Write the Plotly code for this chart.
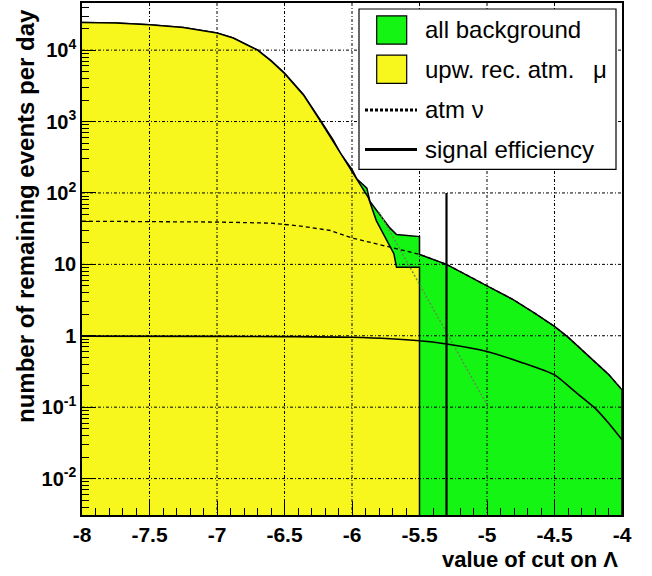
import plotly.graph_objects as go

# ---- data: rates (events per day) versus the cut value on Lambda ----
# upward reconstructed atmospheric muons
lam_mu = [-8.0, -7.75, -7.5, -7.25, -7.0, -6.88, -6.7, -6.6, -6.5, -6.36, -6.24,
          -6.14, -6.05, -6.0, -5.94, -5.88, -5.82, -5.74, -5.69, -5.67, -5.5]
rate_mu = [24300, 24000, 22700, 20700, 17400, 14800, 10000, 7080, 4720, 2360, 1057,
           525, 275, 200, 132, 87, 41, 21.6, 14.1, 9.1, 9.1]

# atmospheric neutrinos
lam_nu = [-8.0, -7.5, -7.0, -6.6, -6.4, -6.16, -6.0, -5.7, -5.5, -5.3, -5.0, -4.8,
          -4.65, -4.5, -4.4, -4.3, -4.2, -4.1, -4.0]
rate_nu = [40.2, 39.8, 39.1, 37.8, 34.7, 29.8, 23.4, 17.1, 13.8, 10.0, 5.0, 3.16,
           2.09, 1.35, 0.955, 0.646, 0.437, 0.288, 0.175]

# sum of all backgrounds while muons still contribute (beyond -5.5 it equals atm nu)
lam_all = [-8.0, -7.75, -7.5, -7.25, -7.0, -6.88, -6.7, -6.6, -6.5, -6.36, -6.24,
           -6.14, -6.08, -6.0, -5.965, -5.89, -5.867, -5.793, -5.72, -5.67, -5.52, -5.5]
rate_all = [24340, 24040, 22740, 20740, 17440, 14840, 10040, 7120, 4760, 2390, 1085,
            555, 345, 214, 158, 117, 76, 49.5, 32.4, 26.2, 24.5, 24.5]

# exponential extrapolation of the muon tail
lam_fit = [-5.8, -5.0]
rate_fit = [54.0, 0.108]

# signal efficiency
lam_sig = [-8.0, -7.0, -6.5, -6.0, -5.5, -5.3, -5.0, -4.75, -4.5, -4.35, -4.2, -4.1, -4.0]
eff_sig = [0.989, 0.982, 0.973, 0.951, 0.851, 0.766, 0.603, 0.427, 0.283, 0.166,
           0.097, 0.060, 0.035]

# chosen cut
cut_value = -5.3
cut_top = 100

x_major = [-8.0, -7.5, -7.0, -6.5, -6.0, -5.5, -5.0, -4.5, -4.0]
x_ticktext = ["-8", "-7.5", "-7", "-6.5", "-6", "-5.5", "-5", "-4.5", "-4"]
y_decades = [1e-2, 1e-1, 1, 10, 1e2, 1e3, 1e4]
y_ticktext = ["10<sup>-2</sup>", "10<sup>-1</sup>", "1", "10",
              "10<sup>2</sup>", "10<sup>3</sup>", "10<sup>4</sup>"]
y_minor = [m * d for d in [1e-3] + y_decades for m in range(2, 10)]

# ---- style ----
FONT = "Liberation Sans"
YELLOW = "#f7f71e"
GREEN = "#14f514"
FLOOR = 1e-3          # lower edge used to close the filled areas
W, H = 652, 576
ML, MR, MT, MB = 82, 30, 1, 61
PW, PH = W - ML - MR, H - MT - MB


def px(x, y):
    """pixel position -> paper coordinates"""
    return (x - ML) / PW, (H - MB - y) / PH


fig = go.Figure()

# all background (filled, black outline)
nu_tail = [(l, r) for l, r in zip(lam_nu, rate_nu) if l >= -5.5]
gx = lam_all + [p[0] for p in nu_tail] + [lam_nu[-1], lam_all[0]]
gy = rate_all + [p[1] for p in nu_tail] + [FLOOR, FLOOR]
fig.add_trace(go.Scatter(x=gx, y=gy, mode="lines", fill="toself", fillcolor=GREEN,
                         line=dict(color="black", width=1.5), hoverinfo="skip"))

# upward reconstructed atmospheric muons
yx = lam_mu + [lam_mu[-1], lam_mu[0]]
yy = rate_mu + [FLOOR, FLOOR]
fig.add_trace(go.Scatter(x=yx, y=yy, mode="lines", fill="toself", fillcolor=YELLOW,
                         line=dict(color="black", width=1.5), hoverinfo="skip"))

# grid drawn over the filled areas
GRID = dict(color="black", width=1, dash="3px,2px,1px,2px")
for xv in x_major[1:-1]:
    fig.add_trace(go.Scatter(x=[xv, xv], y=[FLOOR, 1e5], mode="lines", line=GRID,
                             hoverinfo="skip"))
for yv in y_decades:
    fig.add_trace(go.Scatter(x=[x_major[0], x_major[-1]], y=[yv, yv], mode="lines",
                             line=GRID, hoverinfo="skip"))

# muon tail extrapolation
fig.add_trace(go.Scatter(x=lam_fit, y=rate_fit, mode="lines",
                         line=dict(color="#5e8f4e", width=1.5, dash="2px,2px"),
                         hoverinfo="skip"))
# atmospheric neutrinos
fig.add_trace(go.Scatter(x=lam_nu, y=rate_nu, mode="lines",
                         line=dict(color="black", width=1.3, dash="4px,3px"),
                         hoverinfo="skip"))
# signal efficiency
fig.add_trace(go.Scatter(x=lam_sig, y=eff_sig, mode="lines", line_shape="spline",
                         line=dict(color="black", width=1.6, smoothing=0.6),
                         hoverinfo="skip"))
# cut position
fig.add_trace(go.Scatter(x=[cut_value, cut_value], y=[cut_top, FLOOR], mode="lines",
                         line=dict(color="black", width=2.2), hoverinfo="skip"))

# ---- legend box ----
shapes = []
annotations = []
x0, y0 = px(359, 7)
x1, y1 = px(616, 168)
shapes.append(dict(type="rect", xref="paper", yref="paper", x0=x0, y0=y1, x1=x1, y1=y0,
                   fillcolor="white", line=dict(color="black", width=1.2), layer="above"))
for (top, bot, col) in [(14, 42.3, GREEN), (53.3, 81.7, YELLOW)]:
    a0, b0 = px(376.7, top)
    a1, b1 = px(406.7, bot)
    shapes.append(dict(type="rect", xref="paper", yref="paper", x0=a0, y0=b1, x1=a1, y1=b0,
                       fillcolor=col, line=dict(color="black", width=1.2), layer="above"))
for (yy_, dash) in [(108.5, "3px,2px"), (148, "solid")]:
    a0, b0 = px(365, yy_)
    a1, _ = px(417, yy_)
    shapes.append(dict(type="line", xref="paper", yref="paper", x0=a0, y0=b0, x1=a1, y1=b0,
                       line=dict(color="black", width=3, dash=dash), layer="above"))
for (ty, txt) in [(28, "all background"), (68, "upw. rec. atm. \u2002\u03bc"),
                  (108, "atm \u03bd"), (148, "signal efficiency")]:
    ax_, ay_ = px(423, ty)
    annotations.append(dict(xref="paper", yref="paper", x=ax_, y=ay_, text=txt,
                            showarrow=False, xanchor="left", yanchor="middle",
                            font=dict(family=FONT, size=24, color="black")))

# ---- axis titles ----
tx, ty = px(620, 560)
annotations.append(dict(xref="paper", yref="paper", x=tx, y=ty,
                        text="value of cut on \u039b", showarrow=False,
                        xanchor="right", yanchor="middle",
                        font=dict(family=FONT, size=22, color="black", weight="bold")))
tx, ty = px(26, 5)
annotations.append(dict(xref="paper", yref="paper", x=tx, y=ty,
                        text="number of remaining events per day", showarrow=False,
                        textangle=-90, xanchor="center", yanchor="top",
                        font=dict(family=FONT, size=24, color="black", weight="bold")))

fig.update_layout(
    width=W, height=H,
    margin=dict(l=ML, r=MR, t=MT, b=MB),
    paper_bgcolor="white", plot_bgcolor="white",
    showlegend=False,
    shapes=shapes, annotations=annotations,
    xaxis=dict(range=[-8, -4], tickmode="array", tickvals=x_major, ticktext=x_ticktext,
               showgrid=False, zeroline=False,
               ticks="inside", ticklen=14, tickwidth=1.2, tickcolor="black",
               minor=dict(dtick=0.1, tick0=-8, ticks="inside", ticklen=7,
                          tickwidth=1, tickcolor="black", showgrid=False),
               showline=True, mirror=True, linecolor="black", linewidth=1.5,
               tickfont=dict(family=FONT, size=21, color="black", weight="bold")),
    yaxis=dict(type="log", range=[-2.51, 4.66], tickmode="array",
               tickvals=y_decades, ticktext=y_ticktext,
               showgrid=False, zeroline=False,
               ticks="inside", ticklen=14, tickwidth=1.2, tickcolor="black",
               minor=dict(tickmode="array", tickvals=y_minor, ticks="inside",
                          ticklen=7, tickwidth=1, tickcolor="black", showgrid=False),
               showline=True, mirror=True, linecolor="black", linewidth=1.5,
               tickfont=dict(family=FONT, size=20, color="black", weight="bold")),
)

fig.write_html("out.html")
